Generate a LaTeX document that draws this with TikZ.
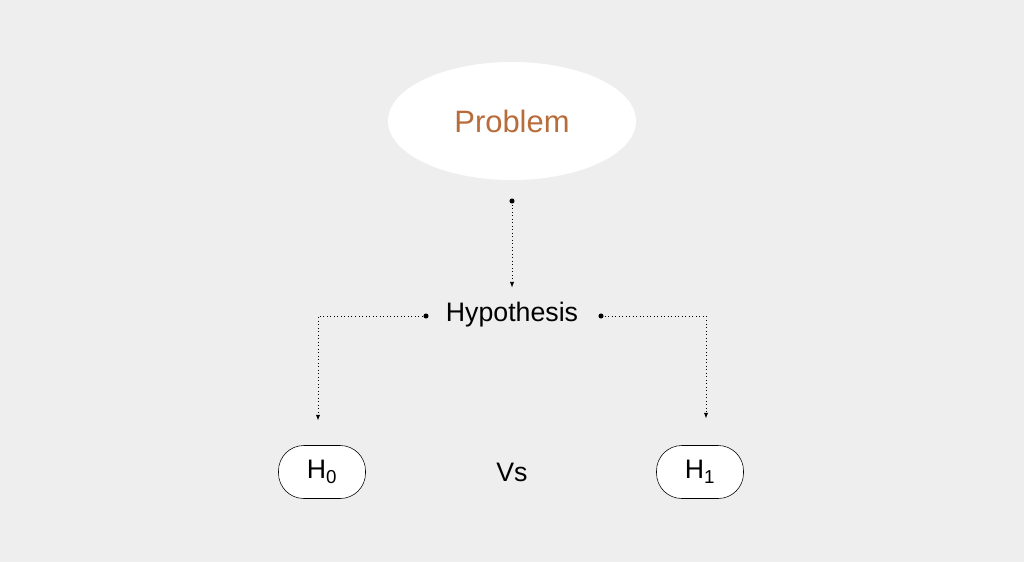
\documentclass[tikz,border=0pt]{standalone}
\usepackage{fontspec}
\setmainfont{Liberation Sans}
\usetikzlibrary{shapes.geometric,arrows.meta}
\definecolor{bggray}{RGB}{238,238,238}
\definecolor{probcolor}{RGB}{184,108,58}
\begin{document}
\begin{tikzpicture}[x=0.025cm,y=-0.025cm,
        link/.style={dotted,line width=0.5pt,-{Latex[length=4pt,width=3pt]}},
        hbox/.style={draw,rounded corners=18pt,fill=white,minimum width=87*0.025cm,minimum height=53*0.025cm,font=\fontsize{19}{22}\selectfont}]
    \fill[bggray] (0,0) rectangle (1024,562);
    \useasboundingbox (0,0) rectangle (1024,562);
    \node[ellipse,fill=white,minimum width=248*0.025cm,minimum height=118*0.025cm,text=probcolor,font=\fontsize{22}{26}\selectfont] (problem) at (512,121) {Problem};
    \node[font=\fontsize{19}{22}\selectfont] (hyp) at (512,315) {Hypothesis};
    \node[hbox] (h0) at (322,472) {H\textsubscript{0}};
    \node[hbox] (h1) at (700,472) {H\textsubscript{1}};
    \node[font=\fontsize{19}{22}\selectfont] (vs) at (512,472) {Vs};
    \coordinate (topdot) at (512,201);
    \coordinate (ldot) at (426,316);
    \coordinate (rdot) at (601,316);
    \foreach \p in {topdot,ldot,rdot}{
        \fill (\p) circle (1.8pt);
    }
    \draw[link,shorten >=0.25cm] (topdot) -- (hyp.north);
    \draw[link,shorten >=0.62cm] (ldot) -| ([xshift=-0.1cm]h0.north);
    \draw[link,shorten >=0.67cm] (rdot) -| ([xshift=0.15cm]h1.north);
\end{tikzpicture}
\end{document}
